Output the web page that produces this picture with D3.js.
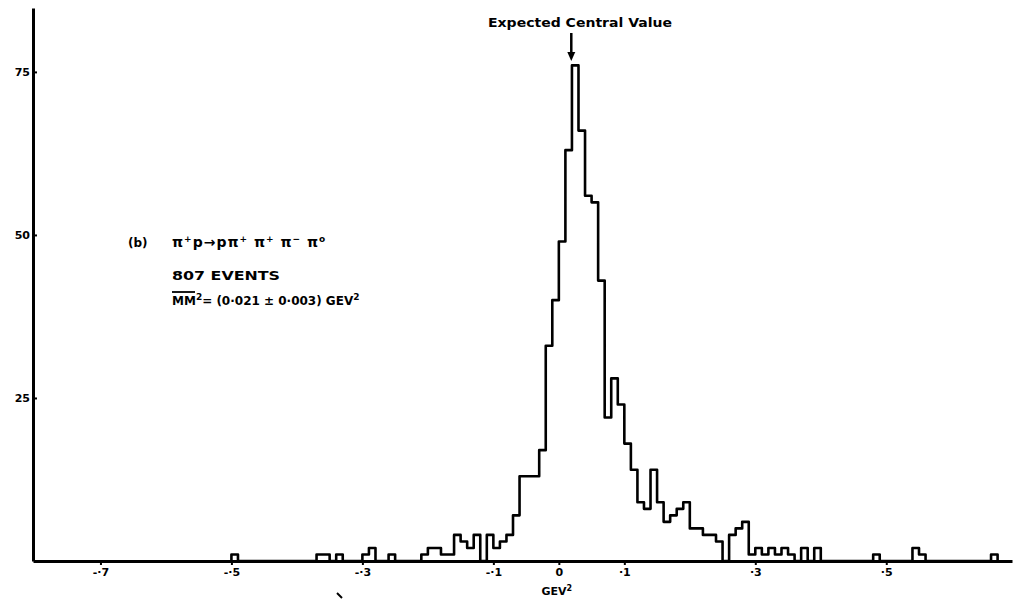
<!DOCTYPE html>
<html>
<head>
<meta charset="utf-8">
<script src="https://cdn.jsdelivr.net/npm/d3@7"></script>
<style>
  html, body { margin: 0; padding: 0; background: #fff; }
  svg { display: block; }
  text { font-family: "DejaVu Sans", "Liberation Sans", sans-serif; font-weight: bold; fill: #000; }
</style>
</head>
<body>
<svg id="chart" width="1028" height="601"></svg>
<script>
// ---- data ----
const binWidth = 0.01;               // GeV^2
const firstBin = -0.50;              // lower edge of first listed bin
const counts = [
  // -0.50 .. -0.41
  1, 0, 0, 0, 0, 0, 0, 0, 0, 0,
  // -0.40 .. -0.31
  0, 0, 0, 1, 1, 0, 1, 0, 0, 0,
  // -0.30 .. -0.21
  1, 2, 0, 0, 1, 0, 0, 0, 0, 1,
  // -0.20 .. -0.11
  2, 2, 1, 1, 4, 3, 2, 4, 0, 4,
  // -0.10 .. -0.01
  2, 3, 4, 7, 13, 13, 13, 17, 33, 40,
  // 0.00 .. 0.09
  49, 63, 76, 66, 56, 55, 43, 22, 28, 24,
  // 0.10 .. 0.19
  18, 14, 9, 8, 14, 9, 6, 7, 8, 9,
  // 0.20 .. 0.29
  5, 5, 4, 4, 3, 0, 4, 5, 6, 1,
  // 0.30 .. 0.39
  2, 1, 2, 1, 2, 1, 0, 2, 0, 2,
  // 0.40 .. 0.49
  0, 0, 0, 0, 0, 0, 0, 0, 1, 0,
  // 0.50 .. 0.59
  0, 0, 0, 0, 2, 1, 0, 0, 0, 0,
  // 0.60 .. 0.66
  0, 0, 0, 0, 0, 0, 1
];
const xTicks = [-0.7, -0.5, -0.3, -0.1, 0, 0.1, 0.3, 0.5];
const xTickLabels = ["-·7", "-·5", "-·3", "-·1", "0", "·1", "·3", "·5"];
const yTicks = [25, 50, 75];
const yTickLabels = ["25", "50", "75"];
const expectedValue = 0.019;
const titleText = "Expected Central Value";
const xAxisTitle = "GEV";
const eventsText = "807 EVENTS";
const mmText = "(0·021 ± 0·003) GEV";
const reactionParts = [["π", "+"], ["p→p", null], ["π", "+"], ["  π", "+"], [" π", "−"], [" π", "o"]];

// ---- layout ----
const svg = d3.select("#chart");
const x = d3.scaleLinear().domain([-0.803, 0.692]).range([33, 1012]);
const y = d3.scaleLinear().domain([0, 84.8]).range([561, 8]);

// histogram points (step after)
const pts = counts.map((c, i) => [firstBin + i * binWidth, c]);
pts.unshift([firstBin, 0]);
pts.push([firstBin + counts.length * binWidth, 0]);
const line = d3.line().x(d => x(d[0])).y(d => y(d[1])).curve(d3.curveStepAfter);

svg.append("path")
  .attr("d", line(pts))
  .attr("fill", "none")
  .attr("stroke", "#000")
  .attr("stroke-width", 2.6)
  .attr("stroke-linejoin", "round");

// axes
const xAxis = d3.axisBottom(x)
  .tickValues(xTicks)
  .tickFormat((d, i) => xTickLabels[i])
  .tickSize(4)
  .tickSizeOuter(0)
  .tickPadding(3);
const gx = svg.append("g").attr("transform", `translate(0,${y(0)})`).call(xAxis);
gx.select(".domain").attr("stroke-width", 3);
gx.selectAll(".tick line").attr("stroke-width", 2);
gx.selectAll(".tick text").style("font-size", "11px").attr("fill", "#000");

const yAxis = d3.axisRight(y)
  .tickValues(yTicks)
  .tickFormat((d, i) => yTickLabels[i])
  .tickSize(4)
  .tickSizeOuter(0);
const gy = svg.append("g").attr("transform", `translate(${x.range()[0]},0)`).call(yAxis);
gy.select(".domain").attr("stroke-width", 3);
gy.selectAll(".tick line").attr("stroke-width", 2);
gy.selectAll(".tick text")
  .attr("x", -3)
  .attr("text-anchor", "end")
  .style("font-size", "11px")
  .attr("fill", "#000");

// x axis title
const gt = svg.append("text")
  .attr("x", x(0) - 2)
  .attr("y", 595)
  .attr("text-anchor", "middle")
  .style("font-size", "11px");
gt.append("tspan").text(xAxisTitle);
gt.append("tspan").attr("dy", -4).style("font-size", "8px").text("2");

// stray mark
svg.append("line")
  .attr("x1", 337).attr("y1", 593).attr("x2", 342).attr("y2", 598)
  .attr("stroke", "#000").attr("stroke-width", 2);

// top annotation with arrow
svg.append("text")
  .attr("x", 488).attr("y", 27)
  .attr("textLength", 184)
  .attr("lengthAdjust", "spacingAndGlyphs")
  .style("font-size", "12px")
  .text(titleText);
const ax = x(expectedValue);
svg.append("line")
  .attr("x1", ax).attr("y1", 33).attr("x2", ax).attr("y2", 53)
  .attr("stroke", "#000").attr("stroke-width", 2.5);
svg.append("path")
  .attr("d", `M${ax - 4},52 L${ax + 4},52 L${ax},61 Z`)
  .attr("fill", "#000");

// reaction label
svg.append("text").attr("x", 128).attr("y", 247).style("font-size", "12px").text("(b)");
const r = svg.append("text").attr("x", 172).attr("y", 247)
  .style("font-size", "14px").style("letter-spacing", "1px");
let pending = 0;
reactionParts.forEach(([base, sup]) => {
  r.append("tspan").attr("dy", pending).text(base);
  pending = 0;
  if (sup) {
    r.append("tspan").attr("dy", -5).style("font-size", "9px").text(sup);
    pending = 5;
  }
});

svg.append("text")
  .attr("x", 172).attr("y", 280)
  .attr("textLength", 108)
  .attr("lengthAdjust", "spacingAndGlyphs")
  .style("font-size", "12px")
  .text(eventsText);

const mm = svg.append("text").attr("x", 172).attr("y", 305).style("font-size", "12px");
mm.append("tspan").text("MM");
mm.append("tspan").attr("dy", -5).style("font-size", "9px").text("2");
mm.append("tspan").attr("dy", 5).text("= " + mmText);
mm.append("tspan").attr("dy", -5).style("font-size", "9px").text("2");
svg.append("line")
  .attr("x1", 172).attr("y1", 292).attr("x2", 195).attr("y2", 292)
  .attr("stroke", "#000").attr("stroke-width", 1.8);
</script>
</body>
</html>
